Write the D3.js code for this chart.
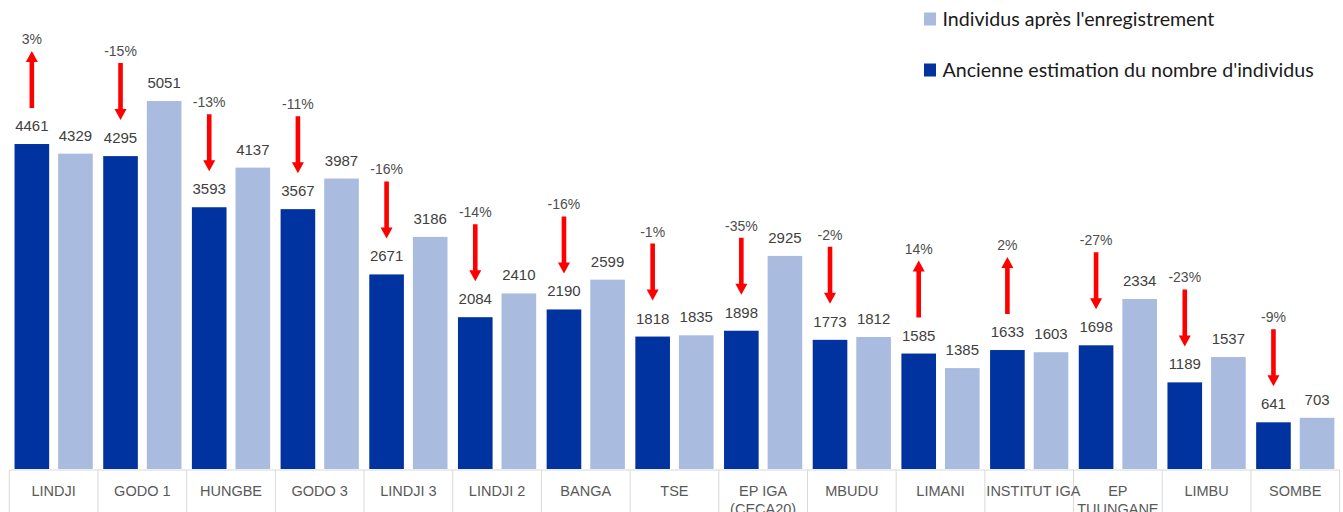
<!DOCTYPE html>
<html>
<head>
<meta charset="utf-8">
<script src="https://cdn.jsdelivr.net/npm/d3@7"></script>
<style>
  body { margin: 0; background: white; }
  svg { display: block; }
</style>
</head>
<body>
<div id="chart"></div>
<script>
// data
let categories = ["LINDJI", "GODO 1", "HUNGBE", "GODO 3", "LINDJI 3", "LINDJI 2", "BANGA", "TSE",
  "EP IGA (CECA20)", "MBUDU", "LIMANI", "INSTITUT IGA", "EP TUUNGANE", "LIMBU", "SOMBE"];
let tickLabels = ["LINDJI", "GODO 1", "HUNGBE", "GODO 3", "LINDJI 3", "LINDJI 2", "BANGA", "TSE",
  "EP IGA\n(CECA20)", "MBUDU", "LIMANI", "INSTITUT IGA", "EP\nTUUNGANE", "LIMBU", "SOMBE"];
let ancienne = [4461, 4295, 3593, 3567, 2671, 2084, 2190, 1818, 1898, 1773, 1585, 1633, 1698, 1189, 641];
let apres = [4329, 5051, 4137, 3987, 3186, 2410, 2599, 1835, 2925, 1812, 1385, 1603, 2334, 1537, 703];
let pctLabels = ["3%", "-15%", "-13%", "-11%", "-16%", "-14%", "-16%", "-1%", "-35%", "-2%", "14%", "2%", "-27%", "-23%", "-9%"];
let seriesNames = ["Individus après l'enregistrement", "Ancienne estimation du nombre d'individus"];

let W = 1343, H = 512;
let dark = "#0033a0", light = "#a9bbdf";

let svg = d3.select("#chart").append("svg")
  .attr("width", W)
  .attr("height", H);

let x = d3.scaleBand()
  .domain(categories)
  .range([9.3, 1339.6])
  .padding(0);

let xSub = d3.scaleBand()
  .domain([0, 1])
  .range([0, x.bandwidth()])
  .paddingInner(0.206)
  .paddingOuter(0.12);

let y = d3.scaleLinear()
  .domain([0, 6000])
  .range([469, 469 - 0.07285 * 6000]);

let rows = categories.map((c, i) => ({cat: c, old: ancienne[i], now: apres[i], pct: pctLabels[i], label: tickLabels[i]}));

// axis line + separators
let axisY = 470;
svg.append("line")
  .attr("x1", x.range()[0]).attr("x2", x.range()[1])
  .attr("y1", axisY).attr("y2", axisY)
  .attr("stroke", "#d9d9d9").attr("stroke-width", 1);
let bounds = categories.map(c => x(c)).concat([x.range()[1]]);
svg.selectAll(".sep").data(bounds).enter().append("line")
  .attr("x1", d => d).attr("x2", d => d)
  .attr("y1", axisY).attr("y2", H)
  .attr("stroke", "#d9d9d9").attr("stroke-width", 1);

// bars
let g = svg.selectAll(".grp").data(rows).enter().append("g")
  .attr("transform", d => "translate(" + x(d.cat) + ",0)");

g.append("rect")
  .attr("x", xSub(0)).attr("width", xSub.bandwidth())
  .attr("y", d => y(d.old)).attr("height", d => y(0) - y(d.old))
  .attr("fill", dark);
g.append("rect")
  .attr("x", xSub(1)).attr("width", xSub.bandwidth())
  .attr("y", d => y(d.now)).attr("height", d => y(0) - y(d.now))
  .attr("fill", light);

// value labels
let valStyle = sel => sel.attr("text-anchor", "middle")
  .attr("font-family", "'Liberation Sans', Arial, sans-serif")
  .attr("font-size", 15).attr("fill", "#404040");
g.append("text").call(valStyle)
  .attr("x", xSub(0) + xSub.bandwidth() / 2)
  .attr("y", d => y(d.old) - 13)
  .text(d => d.old);
g.append("text").call(valStyle)
  .attr("x", xSub(1) + xSub.bandwidth() / 2)
  .attr("y", d => y(d.now) - 13)
  .text(d => d.now);

// red arrows + percentages
let cx = xSub(0) + xSub.bandwidth() / 2;
g.each(function(d) {
  let sel = d3.select(this);
  let near = y(d.old) - 36, far = near - 57;
  let up = d.pct.indexOf("-") !== 0;
  let tipY = up ? far : near, baseY = up ? near : far;
  let dir = up ? 1 : -1; // head goes from tip toward base
  let headH = 11, hw = 6, sw = 2.3;
  sel.append("path")
    .attr("d", "M" + (cx - sw) + "," + baseY +
      "L" + (cx - sw) + "," + (tipY + dir * headH) +
      "L" + (cx - hw) + "," + (tipY + dir * headH) +
      "L" + cx + "," + tipY +
      "L" + (cx + hw) + "," + (tipY + dir * headH) +
      "L" + (cx + sw) + "," + (tipY + dir * headH) +
      "L" + (cx + sw) + "," + baseY + "Z")
    .attr("fill", "#ff0000");
  sel.append("text")
    .attr("x", cx).attr("y", far - 7)
    .attr("text-anchor", "middle")
    .attr("font-family", "'Liberation Sans', Arial, sans-serif")
    .attr("font-size", 14).attr("fill", "#4d4d4d")
    .text(d.pct);
});

// category labels
g.each(function(d) {
  let lines = d.label.split("\n");
  let t = d3.select(this).append("text")
    .attr("font-family", "'Liberation Sans', Arial, sans-serif")
    .attr("font-size", 14.5).attr("fill", "#595959")
    .attr("text-anchor", "middle");
  lines.forEach((l, i) => {
    t.append("tspan").attr("x", x.bandwidth() / 2).attr("y", 496 + i * 18).text(l);
  });
  let w = t.node().getBBox().width;
  if (w > x.bandwidth()) {
    t.attr("text-anchor", "start");
    t.selectAll("tspan").attr("x", 1.5);
  }
});

// legend
let legend = svg.append("g");
let legendItems = [{name: seriesNames[0], color: light, y: 19}, {name: seriesNames[1], color: dark, y: 70}];
legendItems.forEach(it => {
  legend.append("rect")
    .attr("x", 924).attr("y", it.y - 6.5)
    .attr("width", 12).attr("height", 13)
    .attr("fill", it.color);
  legend.append("text")
    .attr("class", "leg")
    .attr("x", 942.5).attr("y", it.y + 6.5)
    .attr("font-family", "Lato, 'Open Sans', sans-serif")
    .attr("font-size", 19).attr("fill", "#1a1a1a")
    .text(it.name);
});
// fit the legend text to the original width
let first = legend.select(".leg").node();
let fs = 19 * 272 / first.getComputedTextLength();
legend.selectAll(".leg").attr("font-size", fs);
</script>
</body>
</html>
